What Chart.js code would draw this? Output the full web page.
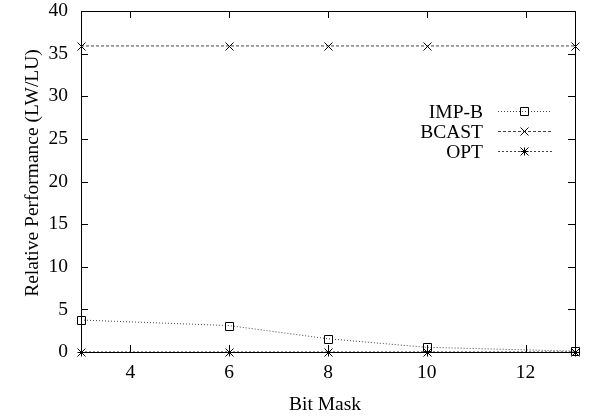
<!DOCTYPE html>
<html>
<head>
<meta charset="utf-8">
<script src="https://cdn.jsdelivr.net/npm/chart.js@4/dist/chart.umd.min.js"></script>
<style>
	html, body { margin: 0; padding: 0; background: #fff; }
	#box { width: 589px; height: 418px; }
</style>
</head>
<body>
<div id="box"><canvas id="myChart"></canvas></div>
<script>
const bitMask = [3, 6, 8, 10, 13];
const impB = [3.75, 3.1, 1.55, 0.55, 0.1];
const bcast = [35.9, 35.9, 35.9, 35.9, 35.9];
const opt = [0, 0, 0, 0, 0];
const xTicks = [4, 6, 8, 10, 12];
const yTicks = [0, 5, 10, 15, 20, 25, 30, 35, 40];
const seriesNames = ['IMP-B', 'BCAST', 'OPT'];
const xTitle = 'Bit Mask';
const yTitle = 'Relative Performance (LW/LU)';

const FONT = '"Liberation Serif", "Times New Roman", serif';
const FS = 19.5;

function pts(ys) {
	return bitMask.map((x, i) => ({ x: x, y: ys[i] }));
}

// gnuplot style marks, drawn by hand
function mark(ctx, style, x, y) {
	ctx.save();
	ctx.strokeStyle = '#000';
	ctx.lineWidth = 1;
	ctx.setLineDash([]);
	ctx.beginPath();
	const r = 4;
	if (style === 'rect') {
		ctx.rect(x - r, y - r, r * 2, r * 2);
	} else if (style === 'crossRot') {
		ctx.moveTo(x - r, y - r); ctx.lineTo(x + r, y + r);
		ctx.moveTo(x - r, y + r); ctx.lineTo(x + r, y - r);
	} else {
		ctx.moveTo(x - r, y - r); ctx.lineTo(x + r, y + r);
		ctx.moveTo(x - r, y + r); ctx.lineTo(x + r, y - r);
		ctx.moveTo(x, y - r); ctx.lineTo(x, y + r);
		ctx.moveTo(x - r, y); ctx.lineTo(x + r, y);
	}
	ctx.stroke();
	ctx.restore();
}

const styles = ['rect', 'crossRot', 'star'];
const dashes = [[1, 2], [3, 2], [2, 2]];

const framePlugin = {
	id: 'frame',
	afterDatasetsDraw(chart) {
		const ctx = chart.ctx;
		const a = chart.chartArea;
		const xs = chart.scales.x, ys = chart.scales.y;
		ctx.save();
		ctx.strokeStyle = '#000';
		ctx.lineWidth = 1;
		ctx.strokeRect(Math.round(a.left) + 0.5, Math.round(a.top) + 0.5,
			Math.round(a.right - a.left), Math.round(a.bottom - a.top));
		ctx.beginPath();
		xTicks.forEach(v => {
			const px = Math.round(xs.getPixelForValue(v)) + 0.5;
			ctx.moveTo(px, a.bottom); ctx.lineTo(px, a.bottom - 7);
			ctx.moveTo(px, a.top); ctx.lineTo(px, a.top + 7);
		});
		yTicks.forEach(v => {
			const py = Math.round(ys.getPixelForValue(v)) + 0.5;
			ctx.moveTo(a.left, py); ctx.lineTo(a.left + 7, py);
			ctx.moveTo(a.right, py); ctx.lineTo(a.right - 7, py);
		});
		ctx.stroke();

		ctx.font = FS + 'px ' + FONT;
		ctx.fillStyle = '#000';

		// axis titles
		ctx.textAlign = 'center';
		ctx.textBaseline = 'alphabetic';
		ctx.fillText(xTitle, 325, 410);
		ctx.save();
		ctx.translate(38, 173);
		ctx.rotate(-Math.PI / 2);
		ctx.fillText(yTitle, 0, 0);
		ctx.restore();

		// legend, inside the plot
		ctx.textAlign = 'right';
		const rows = [111, 131, 151];
		seriesNames.forEach((name, i) => {
			const y = rows[i] + 0.5;
			ctx.fillText(name, 483, rows[i] + 7);
			ctx.beginPath();
			ctx.strokeStyle = '#444';
			ctx.setLineDash(dashes[i]);
			ctx.moveTo(498, y); ctx.lineTo(552, y);
			ctx.stroke();
			ctx.setLineDash([]);
			mark(ctx, styles[i], 524.5, y);
		});
		ctx.restore();
	}
};

const markPlugin = {
	id: 'marks',
	afterDatasetsDraw(chart) {
		const ctx = chart.ctx;
		chart.data.datasets.forEach((ds, i) => {
			chart.getDatasetMeta(i).data.forEach(p => {
				mark(ctx, styles[i], Math.round(p.x) + 0.5, Math.round(p.y) + 0.5);
			});
		});
	}
};

const ctx = document.getElementById('myChart').getContext('2d');
new Chart(ctx, {
	type: 'scatter',
	data: {
		datasets: [
			{ label: seriesNames[0], data: pts(impB), showLine: true, borderColor: '#444', borderWidth: 1, borderDash: dashes[0], pointRadius: 0 },
			{ label: seriesNames[1], data: pts(bcast), showLine: true, borderColor: '#444', borderWidth: 1, borderDash: dashes[1], pointRadius: 0 },
			{ label: seriesNames[2], data: pts(opt), showLine: true, borderColor: '#222', borderWidth: 1, borderDash: dashes[2], pointRadius: 0 }
		]
	},
	options: {
		responsive: true,
		maintainAspectRatio: false,
		animation: false,
		layout: { padding: { left: 0, right: 14, top: 11, bottom: 0 } },
		plugins: {
			legend: { display: false },
			tooltip: { enabled: false }
		},
		scales: {
			x: {
				type: 'linear',
				min: 3,
				max: 13,
				afterBuildTicks: s => { s.ticks = xTicks.map(v => ({ value: v })); },
				afterFit: s => { s.height = 66; s.paddingLeft = 0; s.paddingRight = 0; },
				grid: { display: false, drawTicks: false },
				border: { display: false },
				ticks: { color: '#000', font: { family: FONT, size: FS }, padding: 9 }
			},
			y: {
				type: 'linear',
				min: 0,
				max: 40,
				afterBuildTicks: s => { s.ticks = yTicks.map(v => ({ value: v })); },
				afterFit: s => { s.width = 81; s.paddingTop = 0; s.paddingBottom = 0; },
				grid: { display: false, drawTicks: false },
				border: { display: false },
				ticks: { color: '#000', font: { family: FONT, size: FS }, padding: 13 }
			}
		}
	},
	plugins: [framePlugin, markPlugin]
});
</script>
</body>
</html>
